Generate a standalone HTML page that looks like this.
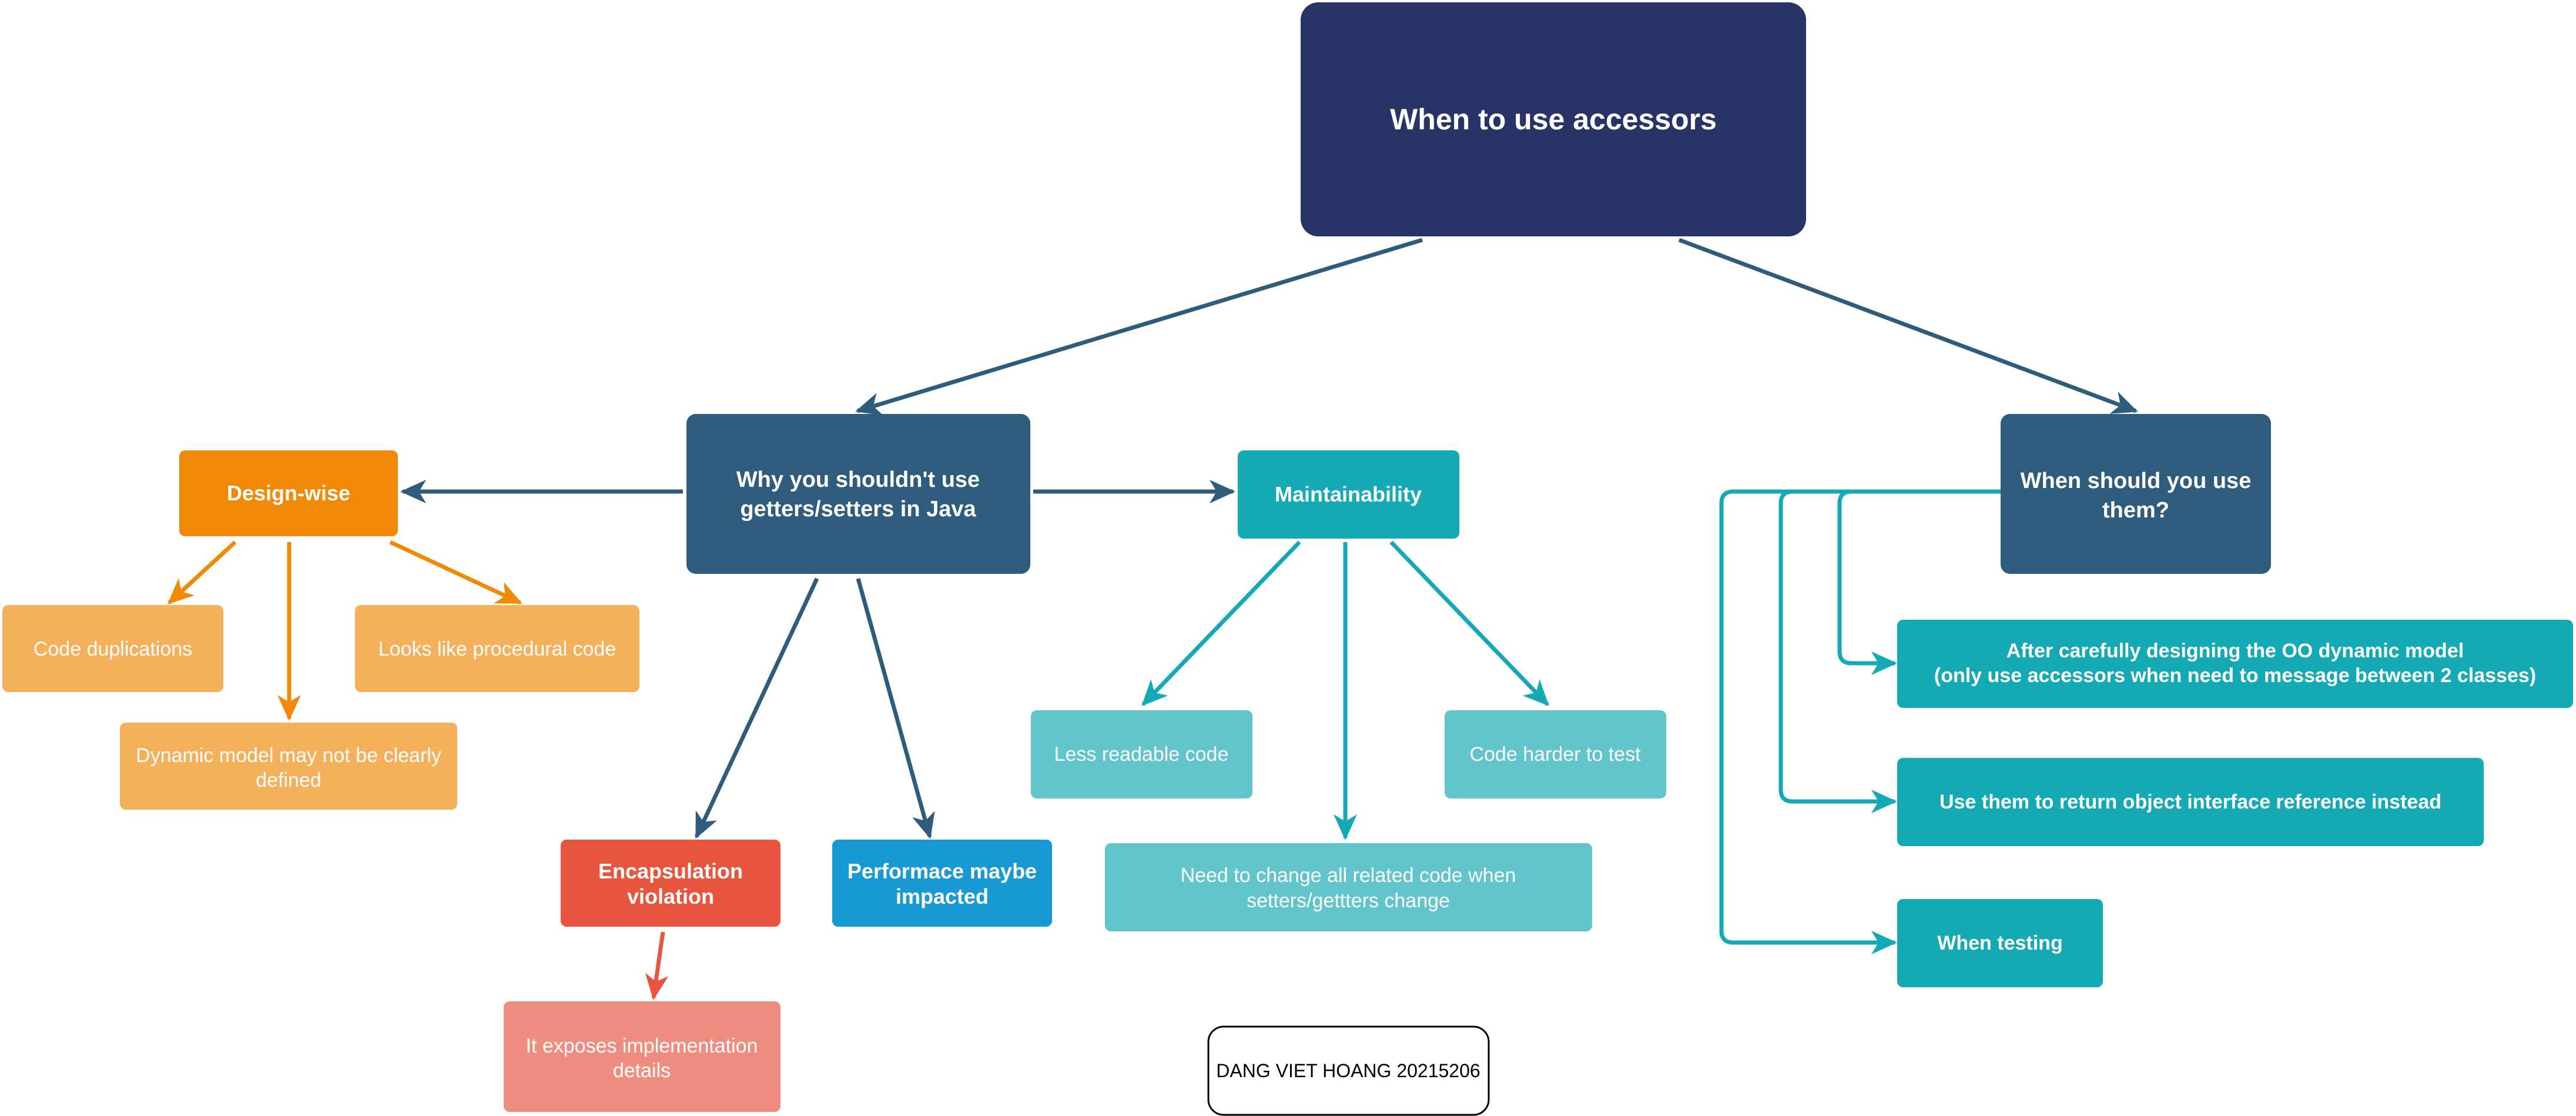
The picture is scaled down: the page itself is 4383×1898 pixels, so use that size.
<!DOCTYPE html>
<html><head><meta charset="utf-8"><style>
html,body{margin:0;padding:0;background:#fff;}
svg{display:block;}
text{font-family:"Liberation Sans",Arial,sans-serif;}
</style></head><body>
<svg width="4383" height="1898" viewBox="0 0 4383 1898" xmlns="http://www.w3.org/2000/svg">
<defs>
<marker id="aN" markerUnits="userSpaceOnUse" markerWidth="44" markerHeight="40" viewBox="0 0 44 40" refX="40" refY="20" orient="auto"><path d="M0,0 L44,20 L0,40 L12,20 Z" fill="#2f5b7c"/></marker>
<marker id="aO" markerUnits="userSpaceOnUse" markerWidth="44" markerHeight="40" viewBox="0 0 44 40" refX="40" refY="20" orient="auto"><path d="M0,0 L44,20 L0,40 L12,20 Z" fill="#ef8906"/></marker>
<marker id="aR" markerUnits="userSpaceOnUse" markerWidth="44" markerHeight="40" viewBox="0 0 44 40" refX="40" refY="20" orient="auto"><path d="M0,0 L44,20 L0,40 L12,20 Z" fill="#e8553f"/></marker>
<marker id="aT" markerUnits="userSpaceOnUse" markerWidth="44" markerHeight="40" viewBox="0 0 44 40" refX="40" refY="20" orient="auto"><path d="M0,0 L44,20 L0,40 L12,20 Z" fill="#13a9b5"/></marker>
</defs>

<!-- connectors -->
<g fill="none" stroke-width="7">
<line x1="2420" y1="408" x2="1459" y2="699" stroke="#2f5b7c" marker-end="url(#aN)"/>
<line x1="2857" y1="408" x2="3634" y2="699" stroke="#2f5b7c" marker-end="url(#aN)"/>
<line x1="1162" y1="836" x2="685" y2="836" stroke="#2f5b7c" marker-end="url(#aN)"/>
<line x1="1758" y1="836" x2="2098" y2="836" stroke="#2f5b7c" marker-end="url(#aN)"/>
<line x1="1390" y1="984" x2="1185" y2="1423" stroke="#2f5b7c" marker-end="url(#aN)"/>
<line x1="1460" y1="984" x2="1582" y2="1423" stroke="#2f5b7c" marker-end="url(#aN)"/>
<line x1="400" y1="922" x2="288" y2="1025" stroke="#ef8906" marker-end="url(#aO)"/>
<line x1="492" y1="922" x2="492" y2="1222" stroke="#ef8906" marker-end="url(#aO)"/>
<line x1="664" y1="922" x2="885" y2="1025" stroke="#ef8906" marker-end="url(#aO)"/>
<line x1="1128" y1="1585" x2="1112" y2="1697" stroke="#e8553f" marker-end="url(#aR)"/>
<line x1="2211" y1="922" x2="1945" y2="1198" stroke="#13a9b5" marker-end="url(#aT)"/>
<line x1="2289" y1="922" x2="2289" y2="1425" stroke="#13a9b5" marker-end="url(#aT)"/>
<line x1="2367" y1="922" x2="2633" y2="1198" stroke="#13a9b5" marker-end="url(#aT)"/>
<path d="M3404,836 L3150,836 Q3130,836 3130,856 L3130,1108 Q3130,1128 3150,1128 L3224,1128" stroke="#13a9b5" marker-end="url(#aT)"/>
<path d="M3404,836 L3050,836 Q3030,836 3030,856 L3030,1343 Q3030,1363 3050,1363 L3224,1363" stroke="#13a9b5" marker-end="url(#aT)"/>
<path d="M3404,836 L2949,836 Q2929,836 2929,856 L2929,1583 Q2929,1603 2949,1603 L3224,1603" stroke="#13a9b5" marker-end="url(#aT)"/>
</g>

<!-- nodes -->
<rect x="2213" y="4" width="860" height="398" rx="30" fill="#283366"/>
<text x="2643" y="220" font-size="50" font-weight="bold" fill="#fff" text-anchor="middle">When to use accessors</text>

<rect x="1168" y="704" width="585" height="272" rx="16" fill="#2f5b7c"/>
<text x="1460" y="828" font-size="38" font-weight="bold" fill="#fff" text-anchor="middle">Why you shouldn't use</text>
<text x="1460" y="878" font-size="38" font-weight="bold" fill="#fff" text-anchor="middle">getters/setters in Java</text>

<rect x="3404" y="704" width="460" height="272" rx="16" fill="#2f5b7c"/>
<text x="3634" y="830" font-size="38" font-weight="bold" fill="#fff" text-anchor="middle">When should you use</text>
<text x="3634" y="880" font-size="38" font-weight="bold" fill="#fff" text-anchor="middle">them?</text>

<rect x="305" y="766" width="372" height="146" rx="10" fill="#ef8906"/>
<text x="491" y="851" font-size="36" font-weight="bold" fill="#fff" text-anchor="middle">Design-wise</text>

<rect x="4" y="1029" width="376" height="148" rx="10" fill="#f4b05b"/>
<text x="192" y="1115" font-size="34" fill="#fff" text-anchor="middle">Code duplications</text>
<rect x="604" y="1029" width="484" height="148" rx="10" fill="#f4b05b"/>
<text x="846" y="1115" font-size="34" fill="#fff" text-anchor="middle">Looks like procedural code</text>
<rect x="204" y="1229" width="574" height="148" rx="10" fill="#f4b05b"/>
<text x="491" y="1296" font-size="34" fill="#fff" text-anchor="middle">Dynamic model may not be clearly</text>
<text x="491" y="1338" font-size="34" fill="#fff" text-anchor="middle">defined</text>

<rect x="954" y="1428" width="374" height="148" rx="10" fill="#e8553f"/>
<text x="1141" y="1494" font-size="36" font-weight="bold" fill="#fff" text-anchor="middle">Encapsulation</text>
<text x="1141" y="1537" font-size="36" font-weight="bold" fill="#fff" text-anchor="middle">violation</text>

<rect x="1416" y="1428" width="374" height="148" rx="10" fill="#1899d3"/>
<text x="1603" y="1494" font-size="36" font-weight="bold" fill="#fff" text-anchor="middle">Performace maybe</text>
<text x="1603" y="1537" font-size="36" font-weight="bold" fill="#fff" text-anchor="middle">impacted</text>

<rect x="857" y="1703" width="471" height="188" rx="10" fill="#ef8d80"/>
<text x="1092" y="1790" font-size="34" fill="#fff" text-anchor="middle">It exposes implementation</text>
<text x="1092" y="1832" font-size="34" fill="#fff" text-anchor="middle">details</text>

<rect x="2106" y="766" width="377" height="150" rx="10" fill="#13a9b5"/>
<text x="2294" y="853" font-size="36" font-weight="bold" fill="#fff" text-anchor="middle">Maintainability</text>

<rect x="1754" y="1208" width="377" height="150" rx="10" fill="#62c5cc"/>
<text x="1942" y="1294" font-size="34" fill="#fff" text-anchor="middle">Less readable code</text>
<rect x="2458" y="1208" width="377" height="150" rx="10" fill="#62c5cc"/>
<text x="2646" y="1294" font-size="34" fill="#fff" text-anchor="middle">Code harder to test</text>
<rect x="1880" y="1434" width="829" height="150" rx="10" fill="#62c5cc"/>
<text x="2294" y="1500" font-size="34" fill="#fff" text-anchor="middle">Need to change all related code when</text>
<text x="2294" y="1543" font-size="34" fill="#fff" text-anchor="middle">setters/gettters change</text>

<rect x="3228" y="1054" width="1150" height="150" rx="10" fill="#13a9b5"/>
<text x="3803" y="1118" font-size="34" font-weight="bold" fill="#fff" text-anchor="middle">After carefully designing the OO dynamic model</text>
<text x="3803" y="1160" font-size="34" font-weight="bold" fill="#fff" text-anchor="middle">(only use accessors when need to message between 2 classes)</text>

<rect x="3228" y="1289" width="998" height="150" rx="10" fill="#13a9b5"/>
<text x="3727" y="1375" font-size="34" font-weight="bold" fill="#fff" text-anchor="middle">Use them to return object interface reference instead</text>

<rect x="3228" y="1529" width="350" height="150" rx="10" fill="#13a9b5"/>
<text x="3403" y="1615" font-size="34" font-weight="bold" fill="#fff" text-anchor="middle">When testing</text>

<rect x="2056" y="1746" width="477" height="150" rx="26" fill="#fff" stroke="#000" stroke-width="3"/>
<text x="2294" y="1832" font-size="32" fill="#000" text-anchor="middle">DANG VIET HOANG 20215206</text>
</svg>
</body></html>
